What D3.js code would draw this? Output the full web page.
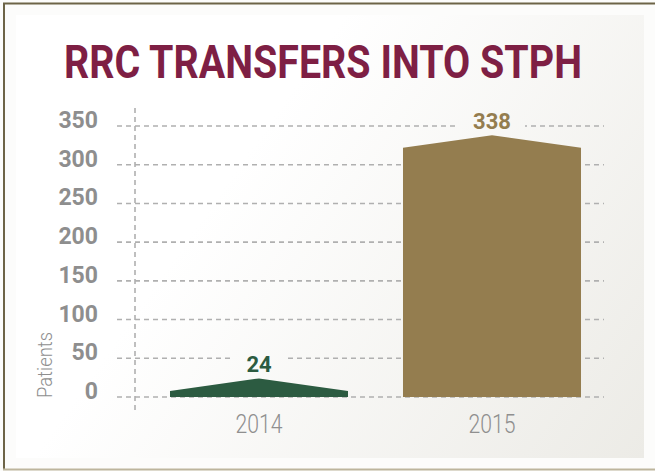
<!DOCTYPE html>
<html lang="en">
<head>
<meta charset="UTF-8">
<title>RRC Transfers into STPH</title>
<style>
  body { margin: 0; background: #ffffff; }
  svg { display: block; }
  .grid line { stroke: #b0b0b0; stroke-width: 1.6; stroke-dasharray: 5 4; }
  .ytick text { font-family: Roboto, "Liberation Sans", sans-serif; font-weight: bold; font-size: 23px; fill: #8e8e8e; }
  .xlab { font-family: Roboto, "Liberation Sans", sans-serif; font-weight: 300; font-size: 25px; fill: #8f8f8f; }
</style>
</head>
<body>
<div id="chart"></div>
<script src="https://cdn.jsdelivr.net/npm/d3@7"></script>
<script>
const years = ["2014", "2015"];
const patients = [24, 338];
const barColors = ["#2c5b41", "#947d4f"];
const yTicks = [0, 50, 100, 150, 200, 250, 300, 350];

const W = 655, H = 471;
const svg = d3.select("#chart").append("svg").attr("width", W).attr("height", H);

// squeeze a text horizontally to a given width (condensed look)
function condense(sel, cx, cy, width, rotate) {
    const w = sel.node().getComputedTextLength();
    const k = width / w;
    sel.attr("text-anchor", "middle").attr("x", 0).attr("y", 0)
        .attr("transform", `translate(${cx},${cy})${rotate ? " rotate(-90)" : ""} scale(${k},1)`);
}

// background panel, gradient in user space so the label knockouts match it
const defs = svg.append("defs");
const grad = defs.append("linearGradient").attr("id", "bg")
    .attr("gradientUnits", "userSpaceOnUse")
    .attr("x1", 16).attr("y1", 15).attr("x2", 644).attr("y2", 458);
grad.append("stop").attr("offset", "0.35").attr("stop-color", "#ffffff");
grad.append("stop").attr("offset", "1").attr("stop-color", "#ecebe6");

svg.append("rect").attr("x", 0).attr("y", 0).attr("width", W).attr("height", H).attr("fill", "#fcfcfb");
svg.append("rect").attr("x", 16).attr("y", 15).attr("width", 628).attr("height", 443).attr("fill", "url(#bg)");
// frame
svg.append("line").attr("x1", 3).attr("x2", W).attr("y1", 3.5).attr("y2", 3.5).attr("stroke", "#6d6447").attr("stroke-width", 2);
svg.append("line").attr("x1", 4).attr("x2", 4).attr("y1", 3).attr("y2", 470).attr("stroke", "#6d6447").attr("stroke-width", 2);
svg.append("line").attr("x1", 3).attr("x2", W).attr("y1", 469.5).attr("y2", 469.5).attr("stroke", "#bdb59d").attr("stroke-width", 2);

const title = svg.append("text")
    .attr("font-family", "Roboto, 'Liberation Sans', sans-serif")
    .attr("font-weight", "bold").attr("font-size", 46).attr("fill", "#7e1f44")
    .text("RRC TRANSFERS INTO STPH");
condense(title, 323, 78, 518);

const y = d3.scaleLinear().domain([0, 350]).range([397, 126]);
const x = d3.scaleBand().domain(years).range([142.5, 608.5])
    .paddingInner(0.236).paddingOuter(0.118);

// gridlines
const grid = svg.append("g").attr("class", "grid");
grid.selectAll("line.h").data(yTicks).enter().append("line")
    .attr("x1", 117).attr("x2", 604)
    .attr("y1", d => y(d)).attr("y2", d => y(d));
grid.append("line").attr("x1", 135).attr("x2", 135).attr("y1", 108).attr("y2", 414);

// y tick labels
svg.append("g").attr("class", "ytick").selectAll("text").data(yTicks).enter().append("text")
    .attr("x", 98).attr("y", d => y(d) + 2)
    .attr("text-anchor", "end")
    .text(d => d);

const ylab = svg.append("text").attr("class", "xlab")
    .style("font-size", "20px")
    .text("Patients");
condense(ylab, 52, 365, 66, true);

// bars with peaked tops
const peak = 12.5;
const bars = years.map((d, i) => ({ year: d, value: patients[i], color: barColors[i] }));
svg.append("g").selectAll("path").data(bars).enter().append("path")
    .attr("fill", d => d.color)
    .attr("d", d => {
        const x0 = x(d.year), x1 = x0 + x.bandwidth(), xm = x0 + x.bandwidth() / 2;
        const top = y(d.value), side = top + peak;
        return `M${x0},${y(0)}L${x0},${side}L${xm},${top}L${x1},${side}L${x1},${y(0)}Z`;
    });

// value labels with background knockout
const lab = svg.append("g").selectAll("g").data(bars).enter().append("g");
lab.append("rect")
    .attr("x", d => x(d.year) + x.bandwidth() / 2 - (d.value > 99 ? 33 : 29))
    .attr("y", d => y(d.value) - 26)
    .attr("width", d => d.value > 99 ? 66 : 58).attr("height", 18)
    .attr("fill", "url(#bg)");
lab.append("text")
    .attr("x", d => x(d.year) + x.bandwidth() / 2)
    .attr("y", d => y(d.value) - 6)
    .attr("text-anchor", "middle")
    .attr("font-family", "Roboto, 'Liberation Sans', sans-serif")
    .attr("font-weight", "bold").attr("font-size", 22)
    .attr("fill", d => d.color)
    .text(d => d.value);

// x labels
svg.append("g").selectAll("text").data(years).enter().append("text")
    .attr("class", "xlab")
    .text(d => d)
    .each(function (d) { condense(d3.select(this), x(d) + x.bandwidth() / 2, 433, 47); });
</script>
</body>
</html>
